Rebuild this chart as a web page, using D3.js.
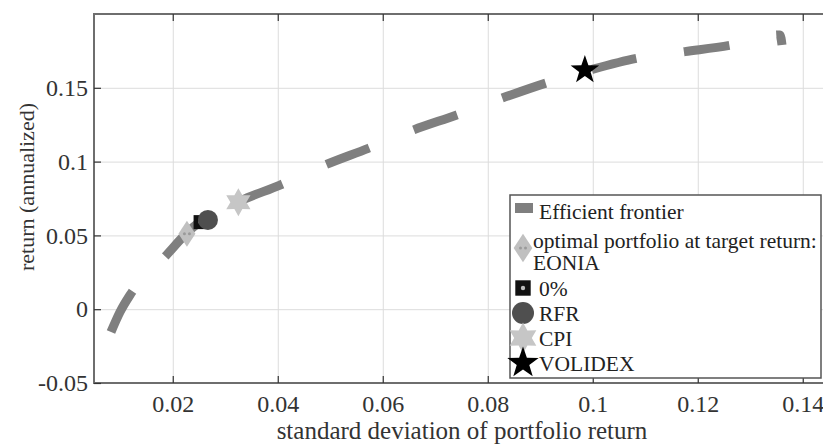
<!DOCTYPE html>
<html>
<head>
<meta charset="utf-8">
<script src="https://cdn.jsdelivr.net/npm/d3@7"></script>
<style>
    body { margin: 0; background: white; }
    text { font-family: "Liberation Serif", "Times New Roman", serif; fill: #333; }
    .grid line { stroke: #dcdcdc; stroke-width: 1; }
    .grid .domain { display: none; }
    .ticks .domain { display: none; }
    .ticks line { stroke: #333; stroke-width: 1.2; }
</style>
</head>
<body>
<svg id="chart"></svg>
<script>
var height = 446;
var width = 823;

var margin = {
    top: 14,
    left: 94,
    right: -6,
    bottom: 63
};

// frontier (std dev, return)
var frontierSd = [0.00824, 0.00995, 0.01186, 0.01852, 0.02329, 0.03243, 0.04043, 0.0490,
    0.05725, 0.06582, 0.07409, 0.08266, 0.0909, 0.09948, 0.10837, 0.11757, 0.12647, 0.13567, 0.13605];
var frontierRet = [-0.0154, -0.0019, 0.0096, 0.0356, 0.0537, 0.0726, 0.0841, 0.0977,
    0.109, 0.1214, 0.1316, 0.1429, 0.1530, 0.1621, 0.1700, 0.1745, 0.1790, 0.1858, 0.1790];

var portfolioNames = ["EONIA", "0%", "RFR", "CPI", "VOLIDEX"];
var portfolioSd = [0.0227, 0.0253, 0.0267, 0.0325, 0.0985];
var portfolioRet = [0.0512, 0.0590, 0.0605, 0.0725, 0.162];

var xTicks = [0.02, 0.04, 0.06, 0.08, 0.1, 0.12, 0.14];
var yTicks = [-0.05, 0, 0.05, 0.1, 0.15];

var chartBottom = height - margin.bottom;
var chartRight = width - margin.right;

var svg = d3.select("#chart")
    .attr("height", height)
    .attr("width", width);

var xScale = d3.scaleLinear()
    .domain([0.005, 0.145])
    .range([margin.left, chartRight]);

var yScale = d3.scaleLinear()
    .domain([-0.05, 0.2])
    .range([chartBottom, margin.top]);

var fmt = function(d) { return String(d); };

// grid
svg.append("g")
    .attr("class", "grid")
    .attr("transform", "translate(0," + chartBottom + ")")
    .call(d3.axisBottom(xScale).tickValues(xTicks).tickSize(-(chartBottom - margin.top)).tickFormat(""));

svg.append("g")
    .attr("class", "grid")
    .attr("transform", "translate(" + margin.left + ",0)")
    .call(d3.axisLeft(yScale).tickValues(yTicks).tickSize(-(chartRight - margin.left)).tickFormat(""));

// box
svg.append("rect")
    .attr("x", margin.left)
    .attr("y", margin.top)
    .attr("width", chartRight - margin.left)
    .attr("height", chartBottom - margin.top)
    .attr("fill", "none")
    .attr("stroke", "#6e6e6e")
    .attr("stroke-width", 2);

// axes with inward ticks
var xAxis = svg.append("g")
    .attr("class", "ticks")
    .attr("transform", "translate(0," + chartBottom + ")")
    .call(d3.axisBottom(xScale).tickValues(xTicks).tickSize(-7).tickPadding(12).tickFormat(fmt));

xAxis.selectAll("text")
    .style("font-size", "24px");

svg.append("g")
    .attr("class", "ticks")
    .attr("transform", "translate(0," + margin.top + ")")
    .call(d3.axisTop(xScale).tickValues(xTicks).tickSize(-7).tickFormat(""));

var yAxis = svg.append("g")
    .attr("class", "ticks")
    .attr("transform", "translate(" + margin.left + ",0)")
    .call(d3.axisLeft(yScale).tickValues(yTicks).tickSize(-7).tickPadding(6).tickFormat(fmt));

yAxis.selectAll("text")
    .style("font-size", "24px");

svg.append("text")
    .attr("x", 462)
    .attr("y", 439)
    .style("text-anchor", "middle")
    .style("font-size", "25px")
    .text("standard deviation of portfolio return");

svg.append("text")
    .attr("transform", "translate(26,187) rotate(-90)")
    .attr("dy", "0.35em")
    .style("text-anchor", "middle")
    .style("font-size", "22px")
    .text("return (annualized)");

// frontier
var frontier = frontierSd.map(function(d, i) {
    return [d, frontierRet[i]];
});

var line = d3.line()
    .x(function(d) { return xScale(d[0]); })
    .y(function(d) { return yScale(d[1]); })
    .curve(d3.curveMonotoneX);

svg.append("path")
    .datum(frontier)
    .attr("d", line)
    .attr("fill", "none")
    .attr("stroke", "#7f7f7f")
    .attr("stroke-width", 9)
    .attr("stroke-dasharray", "46 48");

// marker shapes
function diamond(w, h) {
    return "M0," + (-h / 2) + "L" + (w / 2) + ",0L0," + (h / 2) + "L" + (-w / 2) + ",0Z";
}

function star(points, outer, inner) {
    var p = [];
    for (var i = 0; i < points * 2; i++) {
        var r = i % 2 === 0 ? outer : inner;
        var a = -Math.PI / 2 + i * Math.PI / points;
        p.push([r * Math.cos(a), r * Math.sin(a)]);
    }
    return "M" + p.map(function(q) { return q[0].toFixed(2) + "," + q[1].toFixed(2); }).join("L") + "Z";
}

function drawMarker(g, name, big) {
    var s = big ? 1.1 : 1;
    if (name === "EONIA") {
        g.append("path").attr("d", diamond(17 * s, 26 * s)).attr("fill", "#c0c0c0");
        g.append("circle").attr("r", 1.5).attr("cx", -2.5).attr("fill", "#9a9a9a");
        g.append("circle").attr("r", 1.5).attr("cx", 2.5).attr("fill", "#9a9a9a");
    } else if (name === "0%") {
        var a = 14 * s;
        g.append("rect").attr("x", -a / 2).attr("y", -a / 2).attr("width", a).attr("height", a).attr("fill", "#111");
        g.append("circle").attr("r", 2.2).attr("fill", "#bbb");
    } else if (name === "RFR") {
        g.append("circle").attr("r", 10 * s).attr("fill", "#4f4f4f");
    } else if (name === "CPI") {
        g.append("path").attr("d", star(6, 14 * s, 8 * s)).attr("fill", "#c6c6c6");
    } else {
        g.append("path").attr("d", star(5, 15 * s, 6 * s)).attr("fill", "#000");
    }
}

svg.append("g").attr("id", "marks")
    .selectAll(".mark")
    .data(portfolioNames)
    .enter().append("g")
    .attr("class", "mark")
    .attr("transform", function(d, i) {
        return "translate(" + xScale(portfolioSd[i]) + "," + yScale(portfolioRet[i]) + ")";
    })
    .each(function(d) { drawMarker(d3.select(this), d, false); });

// legend
var legend = svg.append("g").attr("id", "legend");

legend.append("rect")
    .attr("x", 510)
    .attr("y", 195)
    .attr("width", 311)
    .attr("height", 183)
    .attr("fill", "white")
    .attr("stroke", "#555")
    .attr("stroke-width", 1.5);

legend.append("rect")
    .attr("x", 515)
    .attr("y", 203)
    .attr("width", 18)
    .attr("height", 10)
    .attr("fill", "#7f7f7f");

var legendText = [
    { t: "Efficient frontier", x: 539, y: 211.7 },
    { t: "optimal portfolio at target return:", x: 533, y: 240 },
    { t: "EONIA", x: 533, y: 262 }
];
var markerRows = [248, 288, 313, 338, 363];

portfolioNames.forEach(function(name, i) {
    var g = legend.append("g")
        .attr("transform", "translate(523," + markerRows[i] + ")");
    drawMarker(g, name, true);
    if (i > 0) {
        legendText.push({ t: name, x: 539, y: markerRows[i] });
    }
});

legend.selectAll(".legendLabel")
    .data(legendText)
    .enter().append("text")
    .attr("class", "legendLabel")
    .attr("x", function(d) { return d.x; })
    .attr("y", function(d) { return d.y; })
    .attr("dy", "0.35em")
    .style("font-size", "21.5px")
    .style("fill", "#222")
    .text(function(d) { return d.t; });
</script>
</body>
</html>
